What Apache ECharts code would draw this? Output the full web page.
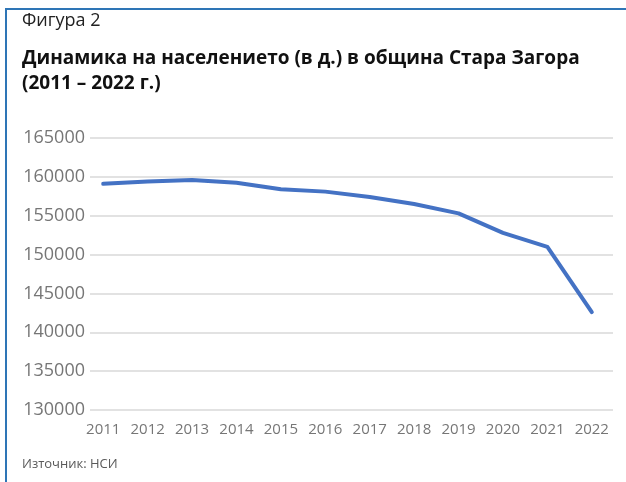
<!DOCTYPE html>
<html>
<head>
<meta charset="utf-8">
<script src="https://cdn.jsdelivr.net/npm/echarts@6/dist/echarts.min.js"></script>
<style>
  html, body { margin: 0; padding: 0; background: #fff; }
  #chart { width: 626px; height: 482px; }
</style>
</head>
<body>
<div id="chart"></div>
<script>
const years = ['2011', '2012', '2013', '2014', '2015', '2016', '2017', '2018', '2019', '2020', '2021', '2022']
const population = [159100, 159400, 159600, 159250, 158400, 158100, 157400, 156500, 155300, 152800, 151000, 142600]
const yMin = 130000
const yMax = 165000
const yStep = 5000

const labelColor = '#767676'
const font = '"Open Sans", "Noto Sans", sans-serif'

const chart = echarts.init(document.getElementById('chart'))

const option = {
  backgroundColor: '#fff',
  animation: false,
  // две мрежи: едната за хоризонталните линии, другата за линията с данни
  grid: [
    { left: 90, right: 13, top: 138, bottom: 72, containLabel: false },
    { left: 81, right: 12, top: 138, bottom: 72, containLabel: false }
  ],
  xAxis: [{
    gridIndex: 0,
    type: 'category',
    data: years,
    show: false
  }, {
    gridIndex: 1,
    type: 'category',
    data: years,
    boundaryGap: true,
    axisLine: { show: false },
    axisTick: { show: false },
    axisLabel: {
      color: labelColor,
      fontFamily: font,
      fontSize: 15,
      margin: 12,
      interval: 0
    }
  }],
  yAxis: [{
    gridIndex: 0,
    type: 'value',
    min: yMin,
    max: yMax,
    interval: yStep,
    axisLine: { show: false },
    axisTick: { show: false },
    axisLabel: {
      color: labelColor,
      fontFamily: font,
      fontSize: 18,
      margin: 5,
      formatter: v => String(v)
    },
    splitLine: {
      lineStyle: { color: '#d9d9d9', width: 1.5 }
    }
  }, {
    gridIndex: 1,
    type: 'value',
    min: yMin,
    max: yMax,
    interval: yStep,
    show: false,
    splitLine: { show: false }
  }],
  series: [{
    type: 'line',
    xAxisIndex: 1,
    yAxisIndex: 1,
    data: population,
    symbol: 'none',
    lineStyle: { color: '#4472C4', width: 4, cap: 'round', join: 'round' }
  }],
  graphic: [
    {
      type: 'line',
      shape: { x1: 6, y1: 9, x2: 626, y2: 9 },
      style: { stroke: '#2E75B6', lineWidth: 2 }
    },
    {
      type: 'line',
      shape: { x1: 6, y1: 8, x2: 6, y2: 482 },
      style: { stroke: '#2E75B6', lineWidth: 2 }
    },
    {
      type: 'text',
      left: 22,
      top: 12,
      style: { text: 'Фигура 2', fontFamily: font, fontSize: 18, fill: '#222' }
    },
    {
      type: 'text',
      left: 22,
      top: 46,
      style: {
        text: 'Динамика на населението (в д.) в община Стара Загора\n(2011 – 2022 г.)',
        fontFamily: font,
        fontSize: 19,
        fontWeight: 'bold',
        lineHeight: 25,
        fill: '#111'
      }
    },
    {
      type: 'text',
      left: 22,
      top: 458,
      style: { text: 'Източник: НСИ', fontFamily: font, fontSize: 13, fill: '#595959' }
    }
  ]
}

chart.setOption(option)
</script>
</body>
</html>
